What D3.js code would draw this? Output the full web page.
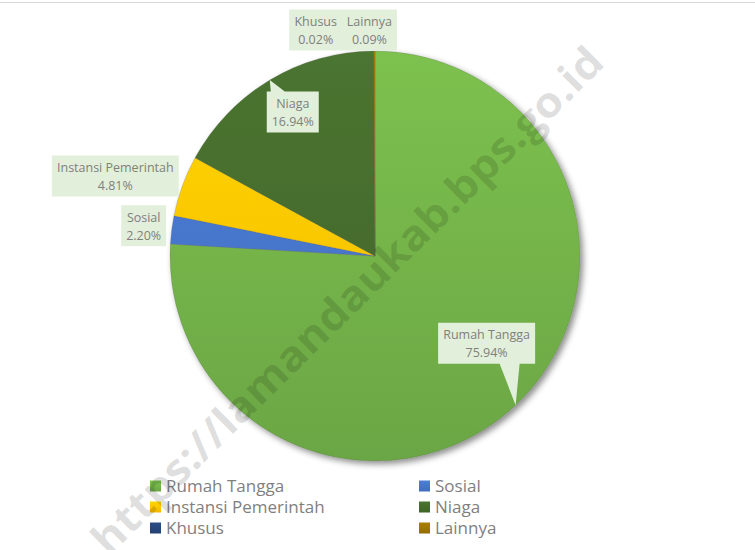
<!DOCTYPE html>
<html>
<head>
<meta charset="utf-8">
<script src="https://cdn.jsdelivr.net/npm/d3@7"></script>
<style>
  body { margin: 0; background: #fff; }
  svg { display: block; }
</style>
</head>
<body>
<div id="chart"></div>
<script>
// data
var categories = ["Rumah Tangga", "Sosial", "Instansi Pemerintah", "Niaga", "Khusus", "Lainnya"];
var values = [75.94, 2.20, 4.81, 16.94, 0.02, 0.09];
var labels = ["75.94%", "2.20%", "4.81%", "16.94%", "0.02%", "0.09%"];
var colors = ["#70AD47", "#4472C4", "#FFC000", "#43682B", "#264478", "#997300"];

// where each callout box sits, relative to the point on the rim it points to
var labelOffset = [[-29, -62], [-28, -4], [-67, -10], [23, 32], [-58, -21], [-5, -21]];

var W = 755, H = 550;
var cx = 375, cy = 256, r = 205;

var svg = d3.select("#chart").append("svg")
  .attr("width", W).attr("height", H);

var defs = svg.append("defs");

var shadow = defs.append("filter").attr("id", "shadow")
  .attr("x", "-20%").attr("y", "-20%").attr("width", "140%").attr("height", "140%");
shadow.append("feDropShadow")
  .attr("dx", 3).attr("dy", 3).attr("stdDeviation", 3)
  .attr("flood-color", "#000").attr("flood-opacity", 0.45);

colors.forEach(function (c, i) {
  // slice gradient, in the pie group's own coordinates
  var g = defs.append("linearGradient").attr("id", "grad" + i)
    .attr("gradientUnits", "userSpaceOnUse")
    .attr("x1", 0).attr("y1", -r).attr("x2", 0).attr("y2", r);
  g.append("stop").attr("offset", "0%").attr("stop-color", d3.rgb(c).brighter(0.3));
  g.append("stop").attr("offset", "100%").attr("stop-color", d3.rgb(c).darker(0.12));
  // legend swatch gradient
  var lg = defs.append("linearGradient").attr("id", "lgrad" + i)
    .attr("x1", 0).attr("y1", 0).attr("x2", 0).attr("y2", 1);
  lg.append("stop").attr("offset", "0%").attr("stop-color", d3.rgb(c).brighter(0.3));
  lg.append("stop").attr("offset", "100%").attr("stop-color", d3.rgb(c).darker(0.12));
});

// top border line
svg.append("line")
  .attr("x1", 0).attr("x2", W).attr("y1", 2.5).attr("y2", 2.5)
  .attr("stroke", "#d9d9d9").attr("stroke-width", 1);

var pieData = d3.pie().sort(null).value(function (d) { return d; })(values);
var arc = d3.arc().innerRadius(0).outerRadius(r);
var rim = d3.arc().innerRadius(r).outerRadius(r);

var pieG = svg.append("g")
  .attr("transform", "translate(" + cx + "," + cy + ")")
  .attr("filter", "url(#shadow)");

pieG.selectAll("path").data(pieData).enter().append("path")
  .attr("d", arc)
  .attr("fill", function (d, i) { return "url(#grad" + i + ")"; })
  .attr("stroke", "rgba(90,90,90,0.35)")
  .attr("stroke-width", 0.6);

// callouts
var fontLabel = "'Open Sans', 'Noto Sans', sans-serif";
var calloutG = svg.append("g");
var clamp = function (v, lo, hi) { return Math.max(lo, Math.min(hi, v)); };

pieData.forEach(function (d, i) {
  var c = rim.centroid(d);
  var ax = cx + c[0], ay = cy + c[1];
  var bx = ax + labelOffset[i][0], by = ay + labelOffset[i][1];

  var g = calloutG.append("g");
  var shape = g.append("path").attr("fill", "#e2efda");
  var t1 = g.append("text").attr("x", bx).attr("y", by - 4)
    .attr("text-anchor", "middle").attr("font-family", fontLabel)
    .attr("font-size", "12.5px").attr("fill", "#7f7f7f").text(categories[i]);
  var t2 = g.append("text").attr("x", bx).attr("y", by + 14)
    .attr("text-anchor", "middle").attr("font-family", fontLabel)
    .attr("font-size", "12.5px").attr("fill", "#7f7f7f").text(labels[i]);

  var tw = Math.max(t1.node().getComputedTextLength(), t2.node().getComputedTextLength());
  var w = Math.round(tw + 10), h = 41;
  var x0 = bx - w / 2, x1 = bx + w / 2, y0 = by - h / 2, y1 = by + h / 2;

  // rectangle with a tail toward the anchor point
  var pts;
  if (ay > y1 + 4) {
    var m = clamp(ax, x0 + 12, x1 - 4);
    pts = [[x0, y0], [x1, y0], [x1, y1], [m + 4, y1], [ax, ay], [m - 16, y1], [x0, y1]];
  } else if (ay < y0 - 4) {
    var m2 = clamp(ax, x0 + 4, x1 - 12);
    pts = [[x0, y0], [m2, y0], [ax, ay], [m2 + 14, y0], [x1, y0], [x1, y1], [x0, y1]];
  } else {
    pts = [[x0, y0], [x1, y0], [x1, y1], [x0, y1]];
  }
  shape.attr("d", d3.line()(pts) + "Z");
});

// legend
var legendCols = [150, 419];
var legendRows = [486, 507, 528];
var legG = svg.append("g");
categories.forEach(function (name, i) {
  var lx = legendCols[i % 2], ly = legendRows[Math.floor(i / 2)];
  legG.append("rect")
    .attr("x", lx).attr("y", ly - 5.5).attr("width", 11).attr("height", 11)
    .attr("fill", "url(#lgrad" + i + ")");
  legG.append("text")
    .attr("x", lx + 16).attr("y", ly + 6)
    .attr("font-family", fontLabel).attr("font-size", "17px")
    .attr("fill", "#7f7f7f").text(name);
});

// watermark
svg.append("text")
  .attr("transform", "translate(346,299) rotate(-44.7)")
  .attr("text-anchor", "middle").attr("dominant-baseline", "central")
  .attr("font-family", "'Open Sans', 'DejaVu Sans', sans-serif")
  .attr("font-weight", "bold").attr("font-size", "42px")
  .attr("textLength", 700).attr("lengthAdjust", "spacingAndGlyphs")
  .attr("fill", "#000").attr("fill-opacity", 0.13)
  .style("pointer-events", "none")
  .text("https://lamandaukab.bps.go.id");
</script>
</body>
</html>
